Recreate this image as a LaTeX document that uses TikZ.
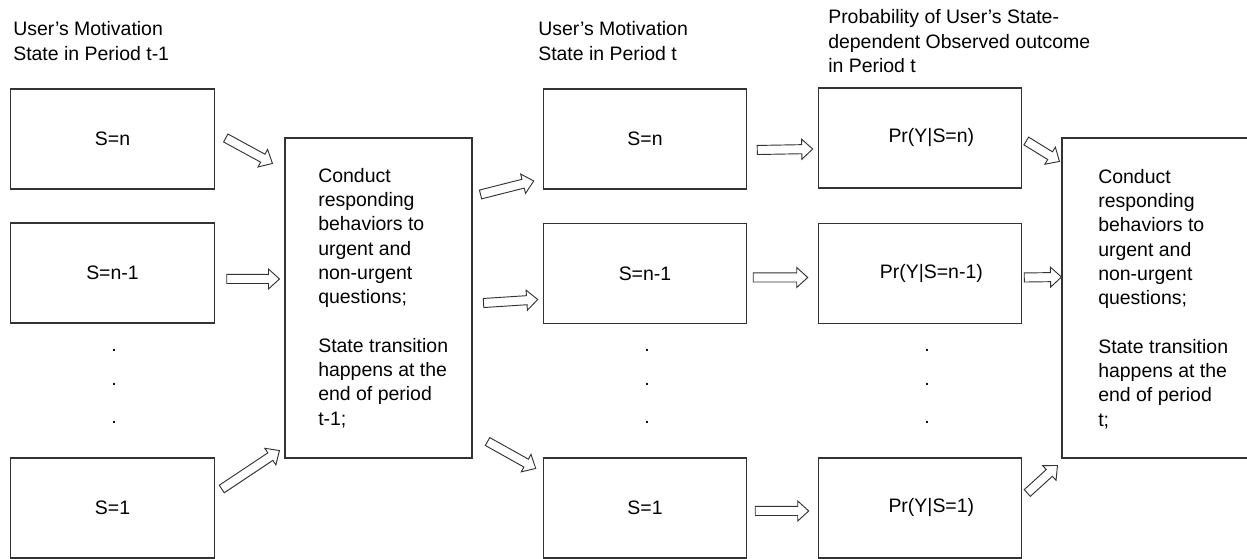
\documentclass[tikz,border=0pt]{standalone}
\usepackage{fontspec}
\setmainfont{Liberation Sans}
\usetikzlibrary{calc}

\tikzset{
	every node/.style={font=\fontsize{14.6pt}{18.2pt}\selectfont},
	statebox/.style={draw=black!80,line width=0.8pt,minimum width=152.6pt,minimum height=75pt,inner sep=0pt},
	condbox/.style={draw=black!80,line width=0.8pt,minimum width=140.25pt,minimum height=240pt,inner sep=0pt},
	plaintext/.style={anchor=north west,align=left,inner sep=0pt},
	blockarrow/.style={draw=black!80,line width=0.7pt,fill=white,
		to path={($(\tikztostart)!3.4pt!90:(\tikztotarget)$)
			-- ($(\tikztotarget)!8.25pt!(\tikztostart)!3.4pt!-90:(\tikztostart)$)
			-- ($(\tikztotarget)!8.25pt!(\tikztostart)!7.5pt!-90:(\tikztostart)$)
			-- (\tikztotarget)
			-- ($(\tikztotarget)!8.25pt!(\tikztostart)!7.5pt!90:(\tikztostart)$)
			-- ($(\tikztotarget)!8.25pt!(\tikztostart)!3.4pt!90:(\tikztostart)$)
			-- ($(\tikztostart)!3.4pt!-90:(\tikztotarget)$) -- cycle}}
}

\begin{document}
\begin{tikzpicture}[x=0.75pt,y=-0.75pt]
	\useasboundingbox (0,0) rectangle (1247,559);
	% headers
	\node[plaintext] (headprev) at (13,21.5) {User’s Motivation\\State in Period t-1};
	\node[plaintext] (headcur) at (538,21.5) {User’s Motivation\\State in Period t};
	\node[plaintext] (headprob) at (828,9.5) {Probability of User’s State-\\dependent Observed outcome\\in Period t};
	% states in period t-1
	\node[statebox] (l1) at (112.5,139) {S=n};
	\node[statebox] (l2) at (112.5,273) {S=n-1};
	\node[statebox] (l3) at (112.5,508) {S=1};
	% behaviour boxes
	\node[condbox] (cond1) at (378.5,298) {};
	\node[plaintext] (cond1text) at (318,168) {Conduct\\responding\\behaviors to\\urgent and\\non-urgent\\questions;\\[18.2pt]State transition\\happens at the\\end of period\\t-1;};
	\node[condbox] (cond2) at (1155.5,298) {};
	\node[plaintext] (cond2text) at (1098,169) {Conduct\\responding\\behaviors to\\urgent and\\non-urgent\\questions;\\[18.2pt]State transition\\happens at the\\end of period\\t;};
	% states in period t
	\node[statebox] (m1) at (645,139) {S=n};
	\node[statebox] (m2) at (645,273.5) {S=n-1};
	\node[statebox] (m3) at (645,508) {S=1};
	% outcome probabilities
	\node[statebox] (p1) at (920,138) {\hspace*{17pt}Pr(Y|S=n)};
	\node[statebox] (p2) at (920,273.5) {\hspace*{17pt}Pr(Y|S=n-1)};
	\node[statebox] (p3) at (920,508) {\hspace*{17pt}Pr(Y|S=1)};
	% dots
	\foreach \y/\k in {350/1,384/2,422/3} {
		\node[inner sep=0pt] (ldot\k) at (114,\y) {.};
		\node[inner sep=0pt] (mdot\k) at (647,\y) {.};
		\node[inner sep=0pt] (pdot\k) at (927,\y) {.};
	}
	% arrows
	\draw[blockarrow] ([shift={(11,-1)}]l1.east) to ([shift={(-12,26)}]cond1.north west);
	\draw[blockarrow] ([shift={(12,6)}]l2.east) to ([shift={(-5,-19)}]cond1.west);
	\draw[blockarrow] ([shift={(7,-19)}]l3.east) to ([shift={(-5,-8)}]cond1.south west);
	\draw[blockarrow] ([shift={(8,57)}]cond1.north east) to ([shift={(-9,42)}]m1.west);
	\draw[blockarrow] ([shift={(11,5)}]cond1.east) to ([shift={(-5,26)}]m2.west);
	\draw[blockarrow] ([shift={(15,-17)}]cond1.south east) to ([shift={(-7,11)}]m3.north west);
	\draw[blockarrow] ([shift={(10,11)}]m1.east) to ([shift={(-5,11)}]p1.west);
	\draw[blockarrow] ([shift={(6,4)}]m2.east) to ([shift={(-10,4)}]p2.west);
	\draw[blockarrow] ([shift={(8,3)}]m3.east) to ([shift={(-9,3)}]p3.west);
	\draw[blockarrow] ([shift={(4,3)}]p1.east) to ([shift={(-2,24)}]cond2.north west);
	\draw[blockarrow] ([shift={(2,4)}]p2.east) to ([shift={(0,-21)}]cond2.west);
	\draw[blockarrow] ([shift={(5,-15)}]p3.east) to ([shift={(-4,7)}]cond2.south west);
\end{tikzpicture}
\end{document}
